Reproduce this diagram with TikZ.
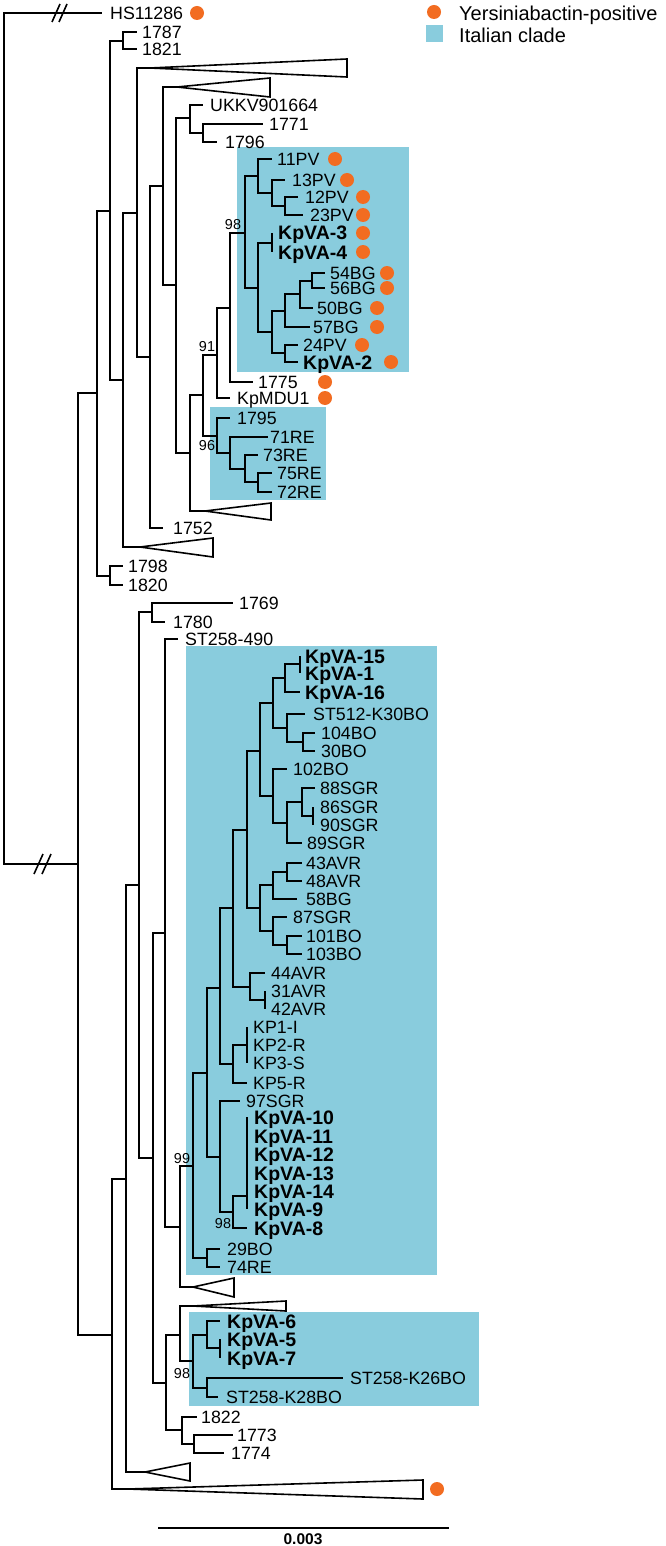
\documentclass[tikz,border=0pt]{standalone}
\usepackage{fontspec}
\setmainfont{Liberation Sans}
\definecolor{org}{RGB}{242,108,33}
\definecolor{ital}{RGB}{137,204,221}
\newcommand{\tipl}[6]{\coordinate (#1) at (#2,#4);\node[#6] (#1l) at (#3,#4) {#5};}
\begin{document}
\begin{tikzpicture}[x=1pt,y=-1pt,
  br/.style={line width=1.6pt},
  lab/.style={anchor=west, inner sep=0pt, font=\fontsize{17.8}{20}\selectfont, text height=12.7pt, text depth=0pt},
  blab/.style={anchor=west, inner sep=0pt, font=\fontsize{19.5}{22}\selectfont\bfseries, text height=14pt, text depth=0pt},
  bs/.style={inner sep=0pt, font=\fontsize{14.4}{16}\selectfont, text height=10.3pt, text depth=0pt},
  dot/.style={circle, fill=org, minimum size=14pt, inner sep=0pt},
  box/.style={fill=ital, draw=none}]
\fill[white] (0,0) rectangle (666,1546);
\useasboundingbox (0,0) rectangle (666,1546);
% clade boxes
\fill[box] (237,147) rectangle (409,372);
\fill[box] (210,407) rectangle (326,500);
\fill[box] (186,646) rectangle (437,1275);
\fill[box] (189,1312) rectangle (479,1406);
% legend
\node[dot] (ldot) at (434,12) {};
\node[anchor=west, inner sep=0pt, font=\fontsize{20}{22}\selectfont, text height=14.3pt, text depth=0pt] (ltxt1) at (459,13) {Yersiniabactin-positive};
\fill[box] (426,25) rectangle (443,42);
\node[anchor=west, inner sep=0pt, font=\fontsize{20}{22}\selectfont, text height=14.3pt, text depth=0pt] (ltxt2) at (459,35) {Italian clade};
% ---------- root ----------
\coordinate (R) at (4,438);
\tipl{tHS}{102}{110}{13}{HS11286}{lab}
\node[dot] (dHS) at (197,13) {};
\coordinate (A78) at (78,864);
\draw[br] (R) |- (tHS);
\draw[br] (R) |- (A78);
\draw[br] (52,22) -- (60,4) (59,22) -- (67,4);
\draw[br] (34,874) -- (43,854) (42,874) -- (51,854);
% ---------- upper clade ----------
\coordinate (B97) at (97,393);
\coordinate (L112) at (112,1335);
\draw[br] (A78) |- (B97);
\draw[br] (A78) |- (L112);
\coordinate (C110) at (110,211);
\coordinate (N1798) at (110,576);
\draw[br] (B97) |- (C110);
\draw[br] (B97) |- (N1798);
\tipl{t1798}{123}{128}{566}{1798}{lab}
\tipl{t1820}{123}{128}{585}{1820}{lab}
\draw[br] (N1798) |- (t1798);
\draw[br] (N1798) |- (t1820);
\coordinate (N1787) at (123,41);
\coordinate (D123) at (123,380);
\draw[br] (C110) |- (N1787);
\draw[br] (C110) |- (D123);
\tipl{t1787}{137}{142}{32}{1787}{lab}
\tipl{t1821}{137}{142}{49}{1821}{lab}
\draw[br] (N1787) |- (t1787);
\draw[br] (N1787) |- (t1821);
\coordinate (E137) at (137,213);
\coordinate (T3) at (140,547);
\draw[br] (D123) |- (E137);
\draw[br] (D123) |- (T3);
\draw[br] (T3) -- (213,538) -- (213,557) -- cycle;
\coordinate (T1) at (150,68);
\coordinate (F150) at (150,357);
\draw[br] (E137) |- (T1);
\draw[br] (E137) |- (F150);
\draw[br] (T1) -- (347,59) -- (347,77) -- cycle;
\coordinate (G163) at (163,186);
\draw[br] (F150) |- (G163);
\tipl{t1752}{163}{173}{528}{1752}{lab}
\draw[br] (F150) |- (t1752);
\coordinate (T2) at (177,87);
\coordinate (H176) at (176,285);
\draw[br] (G163) |- (T2);
\draw[br] (G163) |- (H176);
\draw[br] (T2) -- (270,78) -- (270,97) -- cycle;
\coordinate (I190) at (190,118);
\coordinate (J190) at (190,453);
\draw[br] (H176) |- (I190);
\draw[br] (H176) |- (J190);
\tipl{tUKKV}{203}{210}{105}{UKKV901664}{lab}
\coordinate (K203) at (203,133);
\draw[br] (I190) |- (tUKKV);
\draw[br] (I190) |- (K203);
\tipl{t1771}{263}{269}{124}{1771}{lab}
\tipl{t1796}{217}{225}{142}{1796}{lab}
\draw[br] (K203) |- (t1771);
\draw[br] (K203) |- (t1796);
\coordinate (M203) at (203,395);
\coordinate (T4) at (205,511);
\draw[br] (J190) |- (M203);
\draw[br] (J190) |- (T4);
\draw[br] (T4) -- (271,503) -- (271,520) -- cycle;
\coordinate (N91) at (217,355);
\coordinate (N96) at (217,436);
\draw[br] (M203) |- (N91);
\draw[br] (M203) |- (N96);
\node[bs] (bs91) at (207,346) {91};
\node[bs] (bs96) at (207,445) {96};
\coordinate (N230) at (230,308);
\tipl{tMDU}{230}{237}{398}{KpMDU1}{lab}
\node[dot] (dMDU) at (325,398) {};
\draw[br] (N91) |- (N230);
\draw[br] (N91) |- (tMDU);
\coordinate (N98) at (245,233);
\tipl{t1775}{253}{258}{382}{1775}{lab}
\node[dot] (d1775) at (325,382) {};
\draw[br] (N230) |- (N98);
\draw[br] (N230) |- (t1775);
\node[bs] (bs98a) at (233,224) {98};
\coordinate (P1) at (258,176);
\coordinate (P2) at (258,288);
\draw[br] (N98) |- (P1);
\draw[br] (N98) |- (P2);
\tipl{t11PV}{272}{277}{159}{11PV}{lab}
\node[dot] (d11PV) at (335,159) {};
\coordinate (P13) at (272,193);
\draw[br] (P1) |- (t11PV);
\draw[br] (P1) |- (P13);
\tipl{t13PV}{285}{292}{180}{13PV}{lab}
\node[dot] (d13PV) at (347,180) {};
\coordinate (P12) at (285,206);
\draw[br] (P13) |- (t13PV);
\draw[br] (P13) |- (P12);
\tipl{t12PV}{298}{305}{197}{12PV}{lab}
\tipl{t23PV}{303}{310}{215}{23PV}{lab}
\node[dot] (d12PV) at (363,197) {};
\node[dot] (d23PV) at (363,215) {};
\draw[br] (P12) |- (t12PV);
\draw[br] (P12) |- (t23PV);
\coordinate (Z34) at (272,243);
\coordinate (NB) at (272,332);
\draw[br] (P2) |- (Z34);
\draw[br] (P2) |- (NB);
\tipl{tKp3}{272}{278}{233}{KpVA-3}{blab}
\tipl{tKp4}{272}{278}{252}{KpVA-4}{blab}
\node[dot] (dKp3) at (363,233) {};
\node[dot] (dKp4) at (363,252) {};
\draw[br] (Z34) |- (tKp3);
\draw[br] (Z34) |- (tKp4);
\coordinate (BG2) at (285,311);
\coordinate (PVn) at (285,353);
\draw[br] (NB) |- (BG2);
\draw[br] (NB) |- (PVn);
\coordinate (BG3) at (300,294);
\tipl{t57}{310}{313}{327}{57BG}{lab}
\node[dot] (d57) at (377,327) {};
\draw[br] (BG2) |- (BG3);
\draw[br] (BG2) |- (t57);
\coordinate (BG4) at (312,281);
\tipl{t50}{313}{317}{308}{50BG}{lab}
\node[dot] (d50) at (377,308) {};
\draw[br] (BG3) |- (BG4);
\draw[br] (BG3) |- (t50);
\tipl{t54}{325}{330}{273}{54BG}{lab}
\tipl{t56}{325}{330}{288}{56BG}{lab}
\node[dot] (d54) at (387,273) {};
\node[dot] (d56) at (387,288) {};
\draw[br] (BG4) |- (t54);
\draw[br] (BG4) |- (t56);
\tipl{t24}{298}{303}{345}{24PV}{lab}
\tipl{tKp2}{298}{303}{362}{KpVA-2}{blab}
\node[dot] (d24) at (362,345) {};
\node[dot] (dKp2) at (391,362) {};
\draw[br] (PVn) |- (t24);
\draw[br] (PVn) |- (tKp2);
\tipl{t1795}{230}{237}{418}{1795}{lab}
\coordinate (R71) at (230,453);
\draw[br] (N96) |- (t1795);
\draw[br] (N96) |- (R71);
\tipl{t71}{268}{270}{437}{71RE}{lab}
\coordinate (R73) at (245,469);
\draw[br] (R71) |- (t71);
\draw[br] (R71) |- (R73);
\tipl{t73}{258}{263}{455}{73RE}{lab}
\coordinate (R75) at (258,482);
\draw[br] (R73) |- (t73);
\draw[br] (R73) |- (R75);
\tipl{t75}{272}{277}{473}{75RE}{lab}
\tipl{t72}{272}{277}{492}{72RE}{lab}
\draw[br] (R75) |- (t75);
\draw[br] (R75) |- (t72);
% ---------- lower clade ----------
\coordinate (M126) at (126,1179);
\coordinate (Tb) at (128,1489);
\draw[br] (L112) |- (M126);
\draw[br] (L112) |- (Tb);
\draw[br] (Tb) -- (423,1480) -- (423,1499) -- cycle;
\node[dot] (dTb) at (437,1489) {};
\coordinate (N139) at (139,885);
\coordinate (T5) at (145,1472);
\draw[br] (M126) |- (N139);
\draw[br] (M126) |- (T5);
\draw[br] (T5) -- (190,1463) -- (190,1481) -- cycle;
\coordinate (N152) at (152,612);
\coordinate (N153) at (153,1158);
\draw[br] (N139) |- (N152);
\draw[br] (N139) |- (N153);
\tipl{t1769}{233}{239}{603}{1769}{lab}
\tipl{t1780}{165}{173}{622}{1780}{lab}
\draw[br] (N152) |- (t1769);
\draw[br] (N152) |- (t1780);
\coordinate (N165) at (165,933);
\coordinate (N166) at (166,1383);
\draw[br] (N153) |- (N165);
\draw[br] (N153) |- (N166);
\tipl{tST490}{178}{185}{639}{ST258-490}{lab}
\coordinate (N180) at (180,1227);
\draw[br] (N165) |- (tST490);
\draw[br] (N165) |- (N180);
\coordinate (N193) at (193,1166);
\coordinate (T6) at (193,1287);
\draw[br] (N180) |- (N193);
\draw[br] (N180) |- (T6);
\draw[br] (T6) -- (234,1278) -- (234,1297) -- cycle;
\node[bs] (bs99) at (182,1158) {99};
\coordinate (N207) at (207,1073);
\coordinate (N207b) at (207,1258);
\draw[br] (N193) |- (N207);
\draw[br] (N193) |- (N207b);
\tipl{t29}{220}{227}{1249}{29BO}{lab}
\tipl{t74}{220}{227}{1267}{74RE}{lab}
\draw[br] (N207b) |- (t29);
\draw[br] (N207b) |- (t74);
\coordinate (N220) at (220,988);
\coordinate (N220b) at (220,1157);
\draw[br] (N207) |- (N220);
\draw[br] (N207) |- (N220b);
\tipl{t97}{240}{246}{1101}{97SGR}{lab}
\coordinate (N233k) at (233,1212);
\draw[br] (N220b) |- (t97);
\draw[br] (N220b) |- (N233k);
\node[bs] (bs98b) at (223,1223) {98};
\coordinate (Z10) at (247,1196);
\tipl{tKp8}{247}{254}{1228}{KpVA-8}{blab}
\draw[br] (N233k) |- (Z10);
\draw[br] (N233k) |- (tKp8);
\tipl{tKp10}{247}{254}{1117}{KpVA-10}{blab}
\tipl{tKp11}{247}{254}{1136}{KpVA-11}{blab}
\tipl{tKp12}{247}{254}{1154}{KpVA-12}{blab}
\tipl{tKp13}{247}{254}{1173}{KpVA-13}{blab}
\tipl{tKp14}{247}{254}{1191}{KpVA-14}{blab}
\tipl{tKp9}{247}{254}{1209}{KpVA-9}{blab}
\draw[br] (Z10) |- (tKp10);
\draw[br] (Z10) |- (tKp9);
\coordinate (N233a) at (233,908);
\coordinate (N233b) at (233,1064);
\draw[br] (N220) |- (N233a);
\draw[br] (N220) |- (N233b);
\coordinate (ZKP) at (247,1045);
\tipl{tKP5}{247}{253}{1083}{KP5-R}{lab}
\draw[br] (N233b) |- (ZKP);
\draw[br] (N233b) |- (tKP5);
\tipl{tKP1}{247}{253}{1027}{KP1-I}{lab}
\tipl{tKP2}{247}{253}{1045}{KP2-R}{lab}
\tipl{tKP3}{247}{253}{1063}{KP3-S}{lab}
\draw[br] (ZKP) |- (tKP1);
\draw[br] (ZKP) |- (tKP3);
\coordinate (N247) at (247,830);
\coordinate (N250) at (250,987);
\draw[br] (N233a) |- (N247);
\draw[br] (N233a) |- (N250);
\tipl{t44}{265}{271}{973}{44AVR}{lab}
\coordinate (Z31) at (265,1000);
\draw[br] (N250) |- (t44);
\draw[br] (N250) |- (Z31);
\tipl{t31}{265}{271}{991}{31AVR}{lab}
\tipl{t42}{265}{271}{1009}{42AVR}{lab}
\draw[br] (Z31) |- (t31);
\draw[br] (Z31) |- (t42);
\coordinate (N260a) at (260,751);
\coordinate (N260b) at (260,908);
\draw[br] (N247) |- (N260a);
\draw[br] (N247) |- (N260b);
\coordinate (N273c) at (273,885);
\coordinate (N273d) at (273,931);
\draw[br] (N260b) |- (N273c);
\draw[br] (N260b) |- (N273d);
\coordinate (N287c) at (287,872);
\tipl{t58}{297}{306}{899}{58BG}{lab}
\draw[br] (N273c) |- (N287c);
\draw[br] (N273c) |- (t58);
\tipl{t43}{302}{306}{863}{43AVR}{lab}
\tipl{t48}{302}{306}{881}{48AVR}{lab}
\draw[br] (N287c) |- (t43);
\draw[br] (N287c) |- (t48);
\tipl{t87}{287}{293}{917}{87SGR}{lab}
\coordinate (N287d) at (287,945);
\draw[br] (N273d) |- (t87);
\draw[br] (N273d) |- (N287d);
\tipl{t101}{302}{306}{936}{101BO}{lab}
\tipl{t103}{302}{306}{954}{103BO}{lab}
\draw[br] (N287d) |- (t101);
\draw[br] (N287d) |- (t103);
\coordinate (N273a) at (273,703);
\coordinate (N273b) at (273,796);
\draw[br] (N260a) |- (N273a);
\draw[br] (N260a) |- (N273b);
\coordinate (N285) at (285,678);
\coordinate (N287a) at (287,728);
\draw[br] (N273a) |- (N285);
\draw[br] (N273a) |- (N287a);
\coordinate (Z15) at (300,664);
\tipl{tKp16}{300}{305}{692}{KpVA-16}{blab}
\draw[br] (N285) |- (Z15);
\draw[br] (N285) |- (tKp16);
\tipl{tKp15}{300}{305}{656}{KpVA-15}{blab}
\tipl{tKp1}{300}{305}{673}{KpVA-1}{blab}
\draw[br] (Z15) |- (tKp15);
\draw[br] (Z15) |- (tKp1);
\tipl{tST512}{305}{313}{714}{ST512-K30BO}{lab}
\coordinate (N303) at (303,742);
\draw[br] (N287a) |- (tST512);
\draw[br] (N287a) |- (N303);
\tipl{t104}{315}{321}{733}{104BO}{lab}
\tipl{t30}{315}{321}{751}{30BO}{lab}
\draw[br] (N303) |- (t104);
\draw[br] (N303) |- (t30);
\tipl{t102}{287}{293}{769}{102BO}{lab}
\coordinate (N287b) at (287,823);
\draw[br] (N273b) |- (t102);
\draw[br] (N273b) |- (N287b);
\coordinate (N302) at (302,802);
\tipl{t89}{302}{307}{843}{89SGR}{lab}
\draw[br] (N287b) |- (N302);
\draw[br] (N287b) |- (t89);
\tipl{t88}{315}{320}{788}{88SGR}{lab}
\coordinate (Z86) at (313,816);
\draw[br] (N302) |- (t88);
\draw[br] (N302) |- (Z86);
\tipl{t86}{313}{320}{807}{86SGR}{lab}
\tipl{t90}{313}{320}{825}{90SGR}{lab}
\draw[br] (Z86) |- (t86);
\draw[br] (Z86) |- (t90);
\coordinate (N180b) at (180,1335);
\coordinate (N182) at (182,1430);
\draw[br] (N166) |- (N180b);
\draw[br] (N166) |- (N182);
\coordinate (T7) at (193,1306);
\coordinate (N193b) at (193,1361);
\draw[br] (N180b) |- (T7);
\draw[br] (N180b) |- (N193b);
\draw[br] (T7) -- (286,1301) -- (286,1311) -- cycle;
\node[bs] (bs98c) at (182,1373) {98};
\coordinate (N207c) at (207,1335);
\coordinate (N207d) at (207,1388);
\draw[br] (N193b) |- (N207c);
\draw[br] (N193b) |- (N207d);
\tipl{tKp6}{220}{227}{1321}{KpVA-6}{blab}
\coordinate (Z5) at (220,1348);
\draw[br] (N207c) |- (tKp6);
\draw[br] (N207c) |- (Z5);
\tipl{tKp5}{220}{227}{1339}{KpVA-5}{blab}
\tipl{tKp7}{220}{227}{1358}{KpVA-7}{blab}
\draw[br] (Z5) |- (tKp5);
\draw[br] (Z5) |- (tKp7);
\tipl{tK26}{343}{350}{1378}{ST258-K26BO}{lab}
\tipl{tK28}{218}{226}{1397}{ST258-K28BO}{lab}
\draw[br] (N207d) |- (tK26);
\draw[br] (N207d) |- (tK28);
\tipl{t1822}{197}{201}{1417}{1822}{lab}
\coordinate (N194) at (194,1444);
\draw[br] (N182) |- (t1822);
\draw[br] (N182) |- (N194);
\tipl{t1773}{233}{237}{1435}{1773}{lab}
\tipl{t1774}{224}{231}{1453}{1774}{lab}
\draw[br] (N194) |- (t1773);
\draw[br] (N194) |- (t1774);
% scale bar
\coordinate (sb1) at (158,1528);
\coordinate (sb2) at (449,1528);
\draw[br] (sb1) -- (sb2);
\node[inner sep=0pt, font=\fontsize{15.5}{17}\selectfont\bfseries, text height=11pt, text depth=0pt] (sbl) at (303,1539) {0.003};
\end{tikzpicture}
\end{document}
